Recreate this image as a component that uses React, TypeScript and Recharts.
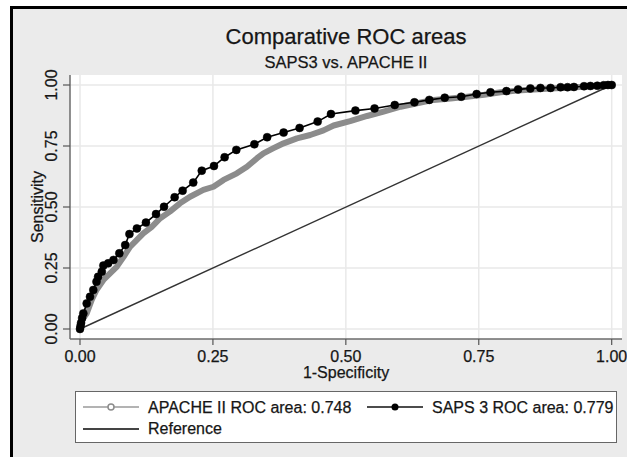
import { CartesianGrid, Line, LineChart, XAxis, YAxis } from "recharts";

const FONT = '"Liberation Sans", Arial, sans-serif';

// SAPS 3 ROC curve (1-specificity, sensitivity)
const saps3X = [
  0, 0.001, 0.002, 0.004, 0.0063, 0.0126, 0.0188, 0.025, 0.031, 0.034, 0.041, 0.044,
  0.053, 0.063, 0.074, 0.085, 0.093, 0.107, 0.124, 0.143, 0.158, 0.178, 0.193, 0.213,
  0.229, 0.252, 0.272, 0.294, 0.328, 0.352, 0.383, 0.413, 0.447, 0.472, 0.518, 0.554,
  0.592, 0.629, 0.657, 0.686, 0.717, 0.746, 0.772, 0.802, 0.824, 0.847, 0.866, 0.885,
  0.904, 0.917, 0.929, 0.948, 0.96, 0.973, 0.985, 0.993, 1,
];
const saps3Y = [
  0, 0.012, 0.025, 0.045, 0.064, 0.105, 0.132, 0.16, 0.194, 0.214, 0.235, 0.26,
  0.269, 0.283, 0.31, 0.344, 0.389, 0.412, 0.436, 0.471, 0.501, 0.54, 0.567, 0.6,
  0.649, 0.668, 0.704, 0.734, 0.757, 0.786, 0.805, 0.824, 0.85, 0.881, 0.895, 0.904,
  0.918, 0.929, 0.939, 0.948, 0.952, 0.963, 0.97, 0.975, 0.982, 0.986, 0.988, 0.988,
  0.991, 0.991, 0.992, 0.995, 0.996, 0.997, 0.999, 1, 1,
];

// APACHE II ROC curve
const apacheX = [
  0, 0.003, 0.0063, 0.0126, 0.022, 0.031, 0.044, 0.0565, 0.069, 0.082, 0.094, 0.107,
  0.119, 0.135, 0.151, 0.169, 0.188, 0.207, 0.232, 0.251, 0.27, 0.295, 0.314, 0.333,
  0.345, 0.364, 0.383, 0.408, 0.433, 0.458, 0.477, 0.508, 0.54, 0.571, 0.603, 0.634,
  0.665, 0.697, 0.728, 0.76, 0.791, 0.822, 0.854, 0.885, 0.917, 0.948, 0.979, 1,
];
const apacheY = [
  0, 0.025, 0.045, 0.064, 0.119, 0.16, 0.201, 0.228, 0.255, 0.296, 0.337, 0.365,
  0.392, 0.419, 0.454, 0.481, 0.515, 0.542, 0.57, 0.583, 0.611, 0.638, 0.665, 0.7,
  0.72, 0.741, 0.761, 0.781, 0.795, 0.814, 0.834, 0.852, 0.873, 0.891, 0.911, 0.925,
  0.939, 0.945, 0.952, 0.96, 0.97, 0.977, 0.982, 0.986, 0.989, 0.993, 0.997, 1,
];

const refX = [0, 1];
const refY = [0, 1];

const axisTicks = [0, 0.25, 0.5, 0.75, 1];

const toPoints = (xs: number[], ys: number[]) => xs.map((x, i) => ({ x, y: ys[i] }));

const saps3 = toPoints(saps3X, saps3Y);
const apache = toPoints(apacheX, apacheY);
const reference = toPoints(refX, refY);

const TEXT = "#161616";

function XTick({ x, y, payload }: any) {
  return (
    <text
      x={x}
      y={y}
      dy="0.71em"
      textAnchor="middle"
      fontSize={16}
      fill={TEXT}
      stroke={TEXT}
      strokeWidth={0.25}
      fontFamily={FONT}
    >
      {Number(payload.value).toFixed(2)}
    </text>
  );
}

function YTick({ x, y, payload }: any) {
  return (
    <text
      x={x}
      y={y}
      transform={`rotate(-90, ${x}, ${y})`}
      textAnchor="middle"
      fontSize={16}
      fill={TEXT}
      stroke={TEXT}
      strokeWidth={0.25}
      fontFamily={FONT}
    >
      {Number(payload.value).toFixed(2)}
    </text>
  );
}

function Legend() {
  return (
    <div
      style={{
        position: "absolute",
        left: 75,
        top: 391,
        width: 540,
        height: 50,
        border: "1px solid #666",
        background: "#fff",
      }}
    >
      <svg
        width={540}
        height={50}
        style={{ display: "block" }}
        fontFamily={FONT}
        fill={TEXT}
        stroke={TEXT}
        strokeWidth={0.25}
      >
        <line x1={7} x2={63} y1={15} y2={15} stroke="#9a9a9a" strokeWidth={1.5} />
        <circle cx={35} cy={15} r={3} fill="#fff" stroke="#8c8c8c" strokeWidth={1.5} />
        <text x={72} y={20.5} fontSize={16}>APACHE II ROC area: 0.748</text>
        <line x1={291} x2={347} y1={15} y2={15} stroke="#111" strokeWidth={1.5} />
        <circle cx={319} cy={15} r={3.5} fill="#000" stroke="none" />
        <text x={356} y={20.5} fontSize={16}>SAPS 3 ROC area: 0.779</text>
        <line x1={7} x2={63} y1={37} y2={37} stroke="#444" strokeWidth={2} />
        <text x={72} y={42.3} fontSize={16}>Reference</text>
      </svg>
    </div>
  );
}

export default function App() {
  return (
    <div
      style={{
        position: "fixed",
        left: 0,
        top: 0,
        width: 627,
        height: 457,
        overflow: "hidden",
        background: "#fff",
      }}
    >
      <div
        style={{
          position: "absolute",
          left: 10,
          top: 6,
          width: 700,
          height: 520,
          border: "3px solid #000",
          background: "#ebebeb",
        }}
      />
      <div style={{ position: "absolute", left: 0, top: 0 }}>
        <LineChart width={627} height={457} margin={{ top: 75, right: 5, bottom: 78, left: 10 }}>
          <CartesianGrid
            stroke="#e9e9e9"
            strokeWidth={1.5}
            fill="#fff"
            horizontalValues={axisTicks}
            verticalValues={axisTicks}
          />
          <XAxis
            type="number"
            dataKey="x"
            domain={[-0.0188, 1.0194]}
            ticks={axisTicks}
            allowDataOverflow
            height={40}
            tickSize={6}
            tickMargin={6}
            tick={<XTick />}
            axisLine={{ stroke: "#6b6b6b", strokeWidth: 1.5 }}
            tickLine={{ stroke: "#555", strokeWidth: 1.2 }}
          />
          <YAxis
            type="number"
            dataKey="y"
            domain={[-0.041, 1.041]}
            ticks={axisTicks}
            allowDataOverflow
            width={60}
            tickSize={7}
            tickMargin={6}
            tick={<YTick />}
            axisLine={{ stroke: "#6b6b6b", strokeWidth: 1.5 }}
            tickLine={{ stroke: "#555", strokeWidth: 1.2 }}
          />
          <Line
            data={reference}
            dataKey="y"
            type="linear"
            stroke="#333"
            strokeWidth={1.4}
            dot={false}
            isAnimationActive={false}
          />
          <Line
            data={apache}
            dataKey="y"
            type="linear"
            stroke="#8c8c8c"
            strokeWidth={6}
            strokeLinecap="round"
            strokeLinejoin="round"
            dot={false}
            isAnimationActive={false}
          />
          <Line
            data={saps3}
            dataKey="y"
            type="linear"
            stroke="#000"
            strokeWidth={1.6}
            dot={{ r: 4, fill: "#000", stroke: "#000", strokeWidth: 0.5 }}
            isAnimationActive={false}
          />
        </LineChart>
      </div>
      <svg
        width={627}
        height={457}
        style={{ position: "absolute", left: 0, top: 0, pointerEvents: "none" }}
        fontFamily={FONT}
        fill={TEXT}
        stroke={TEXT}
        strokeWidth={0.25}
      >
        <text x={346} y={44} textAnchor="middle" fontSize={22}>Comparative ROC areas</text>
        <text x={346} y={68.3} textAnchor="middle" fontSize={16.5}>SAPS3 vs. APACHE II</text>
        <text x={346} y={378} textAnchor="middle" fontSize={16}>1-Specificity</text>
        <text x={42.5} y={207} textAnchor="middle" fontSize={16} transform="rotate(-90, 42.5, 207)">
          Sensitivity
        </text>
      </svg>
      <Legend />
    </div>
  );
}
